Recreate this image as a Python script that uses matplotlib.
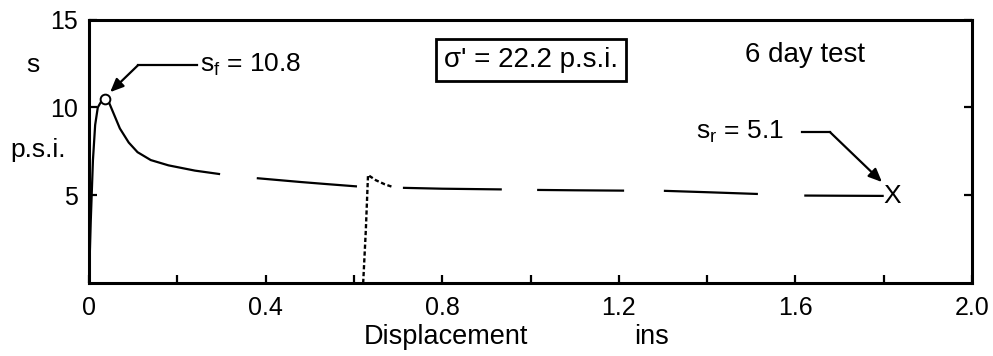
import matplotlib
matplotlib.use("Agg")
import matplotlib.pyplot as plt

plt.rcParams['font.family'] = ['Liberation Sans', 'DejaVu Sans']
plt.rcParams['mathtext.fontset'] = 'custom'
plt.rcParams['mathtext.rm'] = 'Liberation Sans'

# solid curve pieces (displacement in ins, shear stress in p.s.i.)
seg_x = [
    [0.0, 0.004, 0.009, 0.014, 0.02, 0.028, 0.036, 0.045, 0.055, 0.07, 0.09, 0.11, 0.14, 0.18, 0.24, 0.297],
    [0.38, 0.43, 0.48, 0.54, 0.607],
    [0.711, 0.80, 0.935],
    [1.015, 1.10, 1.212],
    [1.302, 1.40, 1.515],
    [1.62, 1.70, 1.80],
]
seg_y = [
    [0.0, 3.5, 7.0, 9.0, 10.0, 10.35, 10.45, 10.3, 9.7, 8.8, 8.0, 7.45, 7.0, 6.7, 6.4, 6.2],
    [5.97, 5.86, 5.75, 5.63, 5.5],
    [5.42, 5.37, 5.33],
    [5.3, 5.28, 5.26],
    [5.25, 5.17, 5.07],
    [4.98, 4.97, 4.96],
]
# dotted reloading spike
spike_x = [0.621, 0.627, 0.632, 0.65, 0.67, 0.689]
spike_y = [0.0, 3.0, 6.15, 5.85, 5.62, 5.46]

peak_x, peak_y = 0.036, 10.45
resid_x, resid_y = 1.82, 4.95

fig = plt.figure(figsize=(9.93, 3.56), dpi=100)
ax = fig.add_axes([0.0896, 0.205, 0.8893, 0.740])

for xs, ys in zip(seg_x, seg_y):
    ax.plot(xs, ys, color='black', lw=1.6, solid_capstyle='butt')
ax.plot(spike_x, spike_y, color='black', lw=1.7, ls=(0, (1.8, 1.1)))
ax.plot([peak_x], [peak_y], 'o', ms=7, mfc='white', mec='black', mew=1.4, zorder=5)
ax.text(resid_x, resid_y, 'X', fontsize=19, ha='center', va='center')

ax.set_xlim(0, 2.0)
ax.set_ylim(0, 15)
xt = [0, 0.2, 0.4, 0.6, 0.8, 1.0, 1.2, 1.4, 1.6, 1.8, 2.0]
xl = ['0', '', '0.4', '', '0.8', '', '1.2', '', '1.6', '', '2.0']
ax.set_xticks(xt)
ax.set_xticklabels(xl)
ax.set_yticks([5, 10, 15])
ax.set_yticklabels(['5', '10', '15'])
ax.tick_params(axis='x', direction='in', length=6, width=1.6, labelsize=18, pad=9)
ax.tick_params(axis='y', direction='in', length=6, width=1.6, labelsize=18, pad=8, right=True)
for s in ax.spines.values():
    s.set_linewidth(2.2)

# axis labels
fig.text(446 / 993, 1 - 337 / 356, 'Displacement', fontsize=19.5, ha='center', va='center')
fig.text(652 / 993, 1 - 337 / 356, 'ins', fontsize=19.5, ha='center', va='center')
fig.text(33 / 993, 1 - 65 / 356, 's', fontsize=19, ha='center', va='center')
fig.text(38 / 993, 1 - 150 / 356, 'p.s.i.', fontsize=19, ha='center', va='center')

# annotations
ax.plot([0.245, 0.111], [12.4, 12.4], color='black', lw=1.6)
ax.annotate('', xy=(0.048, 10.87), xytext=(0.111, 12.4),
            arrowprops=dict(arrowstyle='-|>,head_length=0.8,head_width=0.35', color='black', lw=1.6,
                            shrinkA=0, shrinkB=0))
ax.text(0.252, 12.4, r'$\mathregular{s_f}$ = 10.8', fontsize=19, ha='left', va='center')

ax.plot([1.615, 1.678], [8.6, 8.6], color='black', lw=1.6)
ax.annotate('', xy=(1.796, 5.75), xytext=(1.678, 8.6),
            arrowprops=dict(arrowstyle='-|>,head_length=0.8,head_width=0.35', color='black', lw=1.6,
                            shrinkA=0, shrinkB=0))
ax.text(1.573, 8.6, r'$\mathregular{s_r}$ = 5.1', fontsize=19, ha='right', va='center')

fig.text(531 / 993, 1 - 60 / 356, "σ' = 22.2 p.s.i.", fontsize=20, ha='center', va='center',
         bbox=dict(boxstyle='square,pad=0.3', fc='white', ec='black', lw=2))
fig.text(745 / 993, 1 - 55 / 356, '6 day test', fontsize=20, ha='left', va='center')

fig.savefig('out.png', dpi=100)
